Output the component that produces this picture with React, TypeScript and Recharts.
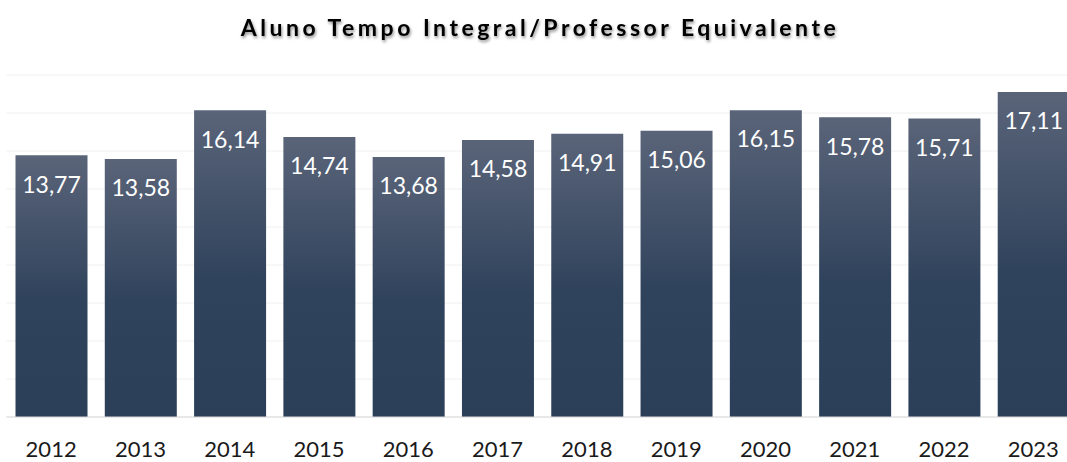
import React from "react";
import { BarChart, Bar, XAxis, YAxis, CartesianGrid, LabelList } from "recharts";

const years = ["2012", "2013", "2014", "2015", "2016", "2017", "2018", "2019", "2020", "2021", "2022", "2023"];
const values = [13.77, 13.58, 16.14, 14.74, 13.68, 14.58, 14.91, 15.06, 16.15, 15.78, 15.71, 17.11];
const yTicks = [0, 2, 4, 6, 8, 10, 12, 14, 16, 18];
const title = "Aluno Tempo Integral/Professor Equivalente";

const data = years.map((y, i) => ({ year: y, value: values[i] }));

const fmt = (v: any) => Number(v).toFixed(2).replace(".", ",");

export default function App() {
  return (
    <div
      style={{
        position: "fixed",
        left: 0,
        top: 0,
        width: 1067,
        height: 462,
        overflow: "hidden",
        background: "#ffffff",
        fontFamily: "Lato, sans-serif",
      }}
    >
      <svg
        width={1067}
        height={60}
        style={{ position: "absolute", left: 0, top: 0 }}
      >
        <defs>
          <filter id="titleShadow" x="-5%" y="-50%" width="110%" height="200%">
            <feDropShadow dx="1" dy="2" stdDeviation="1.4" floodColor="#000" floodOpacity="0.45" />
          </filter>
        </defs>
        <text
          x={540}
          y={36}
          textAnchor="middle"
          fontFamily="Lato, sans-serif"
          fontWeight={700}
          fontSize={23}
          letterSpacing={3.5}
          fill="#000"
          filter="url(#titleShadow)"
        >
          {title}
        </text>
      </svg>
      <div style={{ position: "absolute", left: 0, top: 0 }}>
        <BarChart
          width={1078}
          height={462}
          data={data}
          margin={{ top: 75, right: 0, left: 6.5, bottom: 0 }}
        >
          <defs>
            <linearGradient id="barGrad" x1="0" y1="0" x2="0" y2="1">
              <stop offset="0%" stopColor="#5a6479" />
              <stop offset="55%" stopColor="#30435c" />
              <stop offset="100%" stopColor="#2c3f58" />
            </linearGradient>
          </defs>
          <CartesianGrid horizontal vertical={false} stroke="#f0f0f0" strokeWidth={1} />
          <XAxis
            dataKey="year"
            height={45}
            tickLine={false}
            axisLine={{ stroke: "#d9d9d9" }}
            tickSize={0}
            tickMargin={24}
            interval={0}
            tick={{ fill: "#1a1a1a", fontSize: 22, fontFamily: "Lato, sans-serif" }}
          />
          <YAxis hide domain={[0, 18]} ticks={yTicks} />
          <Bar dataKey="value" fill="url(#barGrad)" barSize={72} isAnimationActive={false}>
            <LabelList
              dataKey="value"
              position="insideTop"
              offset={21}
              formatter={fmt}
              fill="#ffffff"
              style={{ fontSize: 23, fontFamily: "Lato, sans-serif" }}
            />
          </Bar>
        </BarChart>
      </div>
    </div>
  );
}
